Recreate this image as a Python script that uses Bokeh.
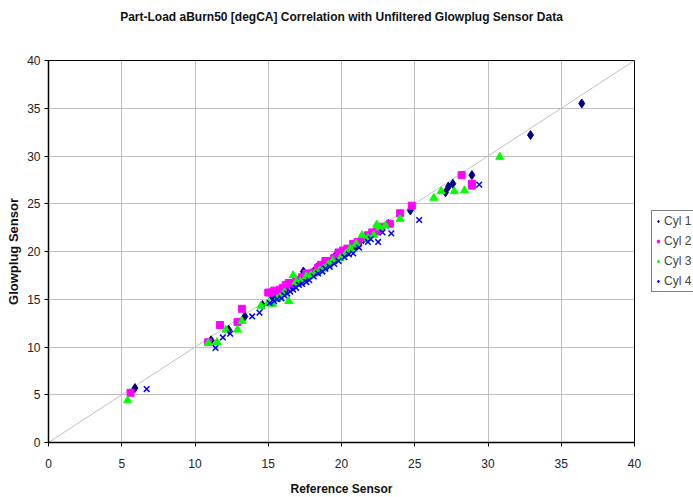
from bokeh.plotting import figure
from bokeh.models import Legend, LegendItem, Range1d, FixedTicker, LinearAxis
from bokeh.embed import file_html
from bokeh.resources import INLINE

title_text = "Part-Load aBurn50 [degCA] Correlation with Unfiltered Glowplug Sensor Data"
x_label = "Reference Sensor"
y_label = "Glowplug Sensor"
tick_values = [0, 5, 10, 15, 20, 25, 30, 35, 40]

diag_x = [0, 40]
diag_y = [0, 40]

x1 = [5.9, 11.1, 12.3, 13.4, 14.6, 15.3, 15.6, 15.8, 16.0, 16.2, 16.6, 16.9, 17.0, 17.4, 17.6, 17.8, 18.1, 18.3, 18.6, 18.8, 19.1, 19.3, 19.6, 19.9, 20.2, 20.4, 20.8, 21.0, 21.3, 21.5, 21.9, 22.3, 22.6, 23.2, 24.7, 27.1, 27.3, 27.6, 28.9, 32.9, 36.4]
y1 = [5.7, 10.7, 11.8, 13.2, 14.4, 15.2, 15.5, 15.6, 15.9, 16.0, 16.4, 17.0, 16.8, 17.9, 17.4, 17.6, 17.9, 18.3, 18.5, 18.6, 18.8, 19.0, 19.6, 19.8, 20.0, 20.2, 20.5, 20.6, 21.1, 21.3, 21.6, 22.0, 22.4, 22.9, 24.3, 26.2, 26.8, 27.1, 28.0, 32.2, 35.5]

x2 = [5.6, 10.9, 11.7, 12.9, 13.2, 15.0, 15.2, 15.4, 15.6, 15.8, 16.0, 16.2, 16.4, 16.6, 16.9, 17.3, 17.6, 18.1, 18.4, 18.6, 18.9, 19.0, 19.5, 19.8, 20.1, 20.4, 20.8, 21.1, 21.5, 21.8, 22.1, 22.4, 22.7, 23.3, 24.0, 24.8, 28.2, 28.9, 28.9]
y2 = [5.2, 10.5, 12.3, 12.6, 14.0, 15.7, 15.7, 15.9, 15.8, 16.0, 16.2, 16.5, 16.7, 16.6, 17.0, 17.3, 17.7, 17.8, 18.3, 18.6, 19.0, 19.0, 19.3, 19.9, 20.1, 20.3, 20.8, 21.0, 21.4, 21.7, 22.0, 22.1, 22.6, 22.9, 24.0, 24.8, 28.0, 27.1, 26.9]

x3 = [5.4, 10.9, 11.5, 12.1, 12.9, 13.2, 14.5, 15.0, 15.3, 15.6, 15.8, 16.1, 16.4, 16.7, 16.9, 17.2, 17.6, 17.9, 18.2, 18.5, 18.8, 19.1, 19.4, 19.9, 20.3, 20.6, 21.0, 21.4, 21.8, 22.2, 22.4, 22.6, 23.0, 24.0, 26.3, 26.8, 27.7, 28.4, 30.8]
y3 = [4.4, 10.4, 10.5, 11.8, 11.8, 12.7, 14.3, 14.6, 14.5, 15.0, 15.2, 15.7, 14.8, 17.5, 16.8, 16.8, 17.4, 17.5, 17.7, 18.0, 18.2, 18.6, 19.0, 19.3, 19.8, 20.3, 20.8, 21.7, 21.4, 21.7, 22.8, 22.5, 22.7, 23.4, 25.6, 26.3, 26.3, 26.4, 29.9]

x4 = [6.7, 11.4, 11.9, 12.4, 13.9, 14.4, 15.1, 15.4, 15.6, 15.9, 16.1, 16.3, 16.5, 16.7, 16.9, 17.1, 17.3, 17.6, 17.8, 18.1, 18.4, 18.7, 18.9, 19.2, 19.5, 19.8, 20.2, 20.5, 20.8, 21.2, 21.8, 22.0, 22.5, 22.8, 23.4, 25.3, 29.4]
y4 = [5.6, 9.9, 11.0, 11.4, 13.2, 13.6, 14.6, 14.8, 15.0, 15.1, 15.4, 15.6, 15.8, 16.0, 16.2, 16.5, 16.6, 16.8, 17.0, 17.4, 17.7, 17.9, 18.2, 18.4, 18.7, 19.0, 19.4, 19.7, 19.8, 20.4, 21.0, 21.3, 21.0, 22.0, 21.9, 23.3, 27.0]

series_names = ["Cyl 1", "Cyl 2", "Cyl 3", "Cyl 4"]

FONT = "Liberation Sans"

p = figure(frame_width=586, frame_height=382, output_backend="svg", toolbar_location=None,
           x_range=Range1d(0, 40), y_range=Range1d(0, 40),
           min_border_left=48, min_border_right=59, min_border_top=60, min_border_bottom=55)
p.background_fill_color = "white"
p.border_fill_color = "white"
p.outline_line_color = "black"
p.outline_line_width = 1

for ax in (p.xaxis, p.yaxis):
    ax.ticker = FixedTicker(ticks=tick_values)
    ax.axis_line_color = "black"
    ax.axis_line_width = 1.5
    ax.major_tick_line_color = "black"
    ax.major_tick_out = 4
    ax.major_tick_in = 0
    ax.minor_tick_line_color = None
    ax.major_label_text_font = FONT
    ax.major_label_text_font_size = "12px"
    ax.major_label_text_color = "#222222"
    ax.axis_label_text_font = FONT
    ax.axis_label_text_font_size = "12px"
    ax.axis_label_text_font_style = "bold"
    ax.axis_label_text_color = "#111111"

p.xaxis.axis_label = x_label
p.yaxis.axis_label = y_label
p.yaxis.axis_label_text_font_size = "13px"
p.xaxis.major_label_standoff = 12
p.xaxis.axis_label_standoff = 11
p.yaxis.major_label_standoff = 4
p.yaxis.axis_label_standoff = 3

# title drawn as the label of an empty top axis
top_axis = LinearAxis(ticker=FixedTicker(ticks=[]), axis_label=title_text,
                      axis_line_color=None, major_tick_out=0, major_tick_in=0,
                      minor_tick_out=0, minor_tick_in=0, major_label_standoff=0,
                      axis_label_standoff=37, axis_label_text_font=FONT,
                      axis_label_text_font_size="12px", axis_label_text_font_style="bold",
                      axis_label_text_color="#111111")
p.add_layout(top_axis, "above")

p.xgrid.ticker = FixedTicker(ticks=tick_values)
p.ygrid.ticker = FixedTicker(ticks=tick_values)
p.grid.grid_line_color = "#c0c0c0"
p.grid.grid_line_width = 1

p.line(diag_x, diag_y, line_color="#c0c0c0", line_width=1)

r1 = p.scatter(x1, y1, marker="diamond", size=9, fill_color="#000080", line_color="#000080")
r2 = p.scatter(x2, y2, marker="square", size=7, fill_color="#ff00ff", line_color="#ff00ff")
r3 = p.scatter(x3, y3, marker="triangle", size=8, fill_color="#00ff00", line_color="#00ff00")
r4 = p.scatter(x4, y4, marker="x", size=8, line_color="#0000ff", line_width=1.5)

legend = Legend(items=[LegendItem(label=n, renderers=[r]) for n, r in zip(series_names, [r1, r2, r3, r4])],
                location="center_left", orientation="vertical",
                label_text_font=FONT, label_text_font_size="12px",
                border_line_color="black", border_line_width=1,
                background_fill_color="white", background_fill_alpha=1,
                glyph_width=6, glyph_height=8, label_standoff=3,
                padding=3, spacing=6, margin=17, label_height=14)
p.add_layout(legend, "right")

p.title.text = ""

open("out.html", "w").write(file_html(p, INLINE))
